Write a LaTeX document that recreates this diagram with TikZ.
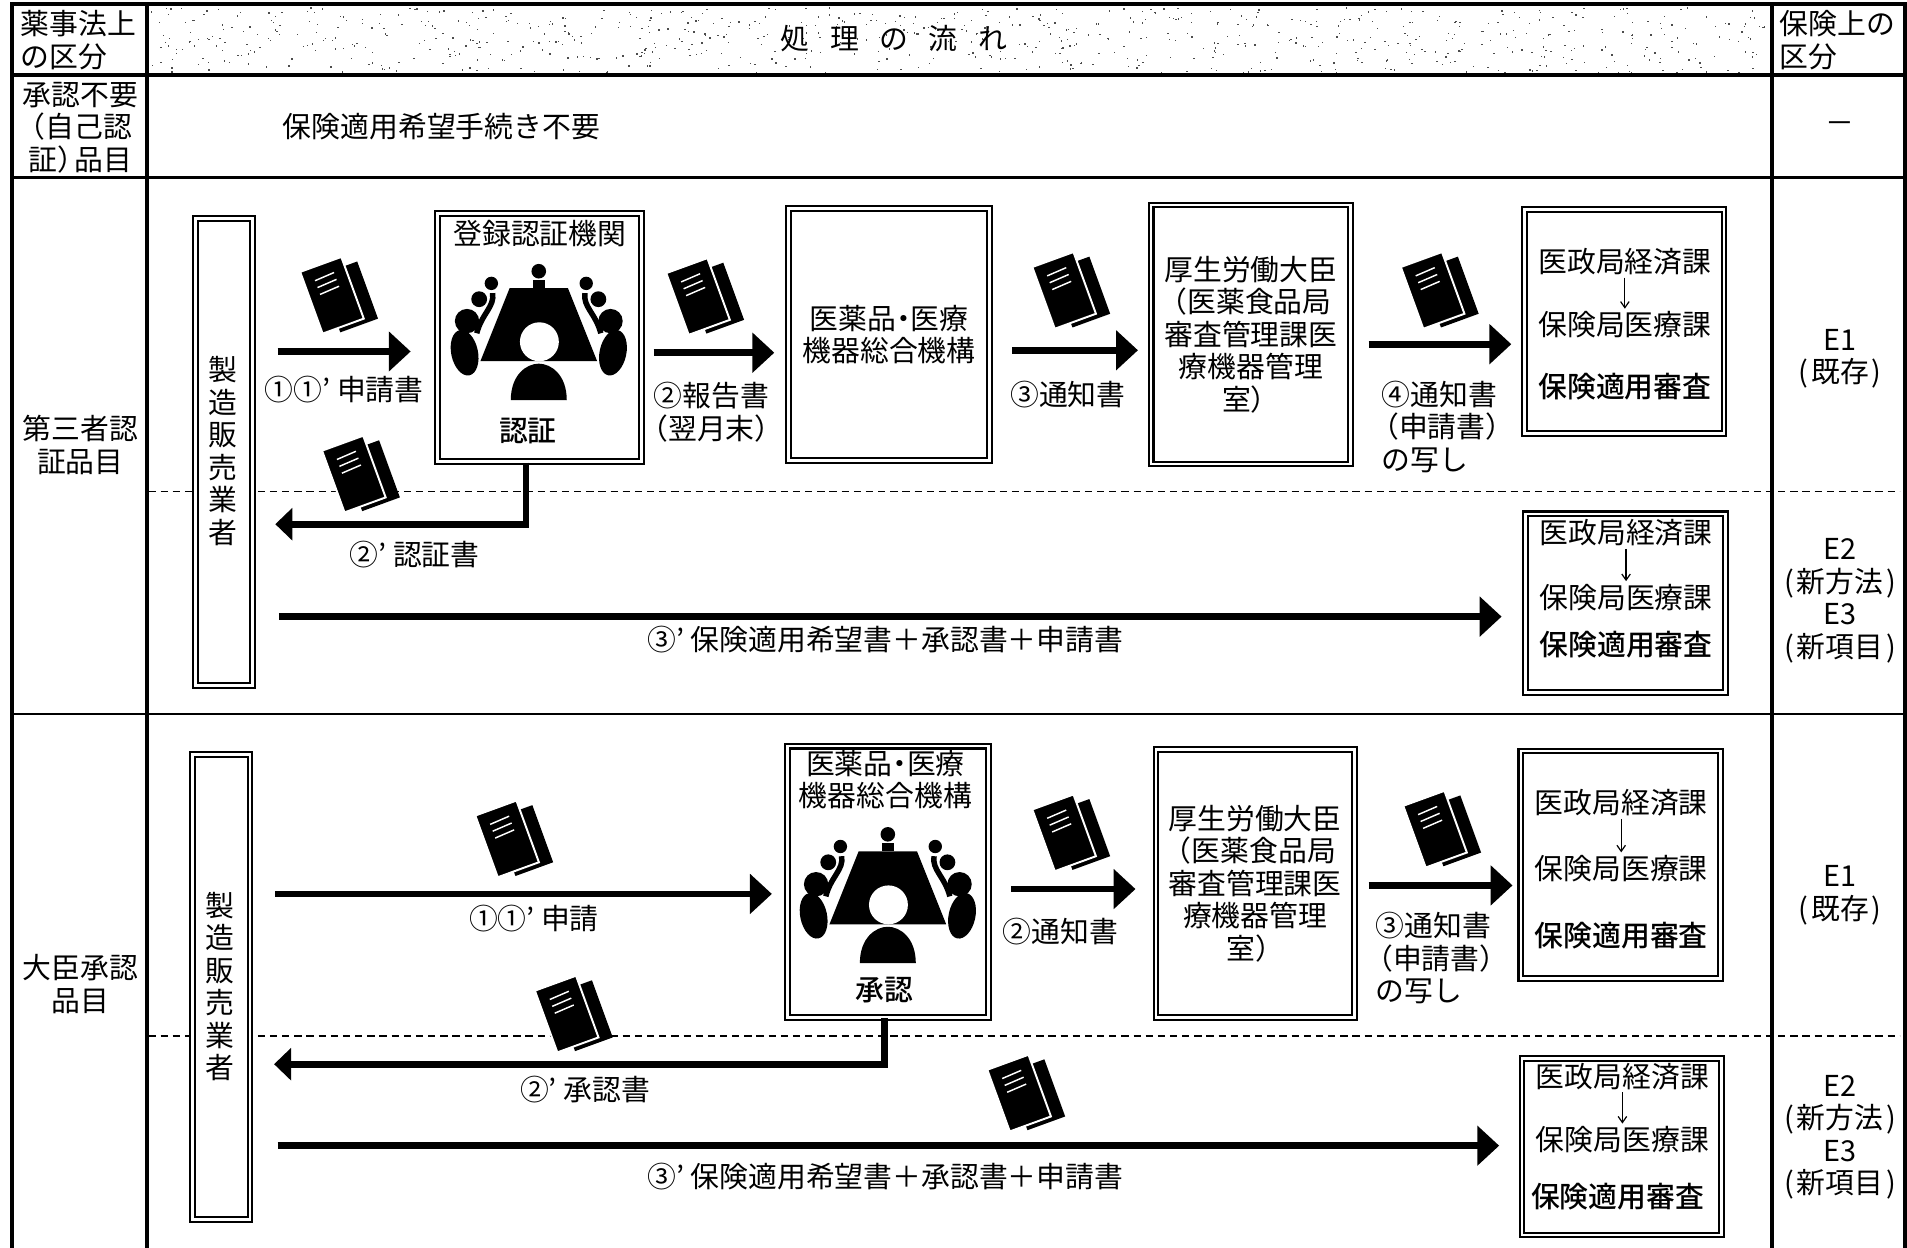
\documentclass[tikz,border=0pt]{standalone}
\usepackage{fontspec}
\setmainfont{Noto Sans CJK JP}[BoldFont=* Medium]
\usetikzlibrary{arrows.meta,positioning,calc}
\newcommand{\lp}{\hspace*{-0.4em}（}
\newcommand{\nakaten}{\hspace{-0.25em}・\hspace{-0.25em}}
\newcommand{\klass}[1]{(\kern.1em#1\kern.1em)}
\tikzset{
    txt/.style={inner sep=0pt,align=center,font=\fontsize{23.7}{26.7}\selectfont},
    txtb/.style={inner sep=0pt,align=center,font=\fontsize{23.7}{26.7}\selectfont\bfseries},
    txtl/.style={inner sep=0pt,align=left,font=\fontsize{23.7}{26.7}\selectfont},
    dblbox/.style={draw,fill=white,double,line width=1.7pt,double distance=2.2pt,inner sep=0pt,align=center,font=\fontsize{23.7}{26.7}\selectfont},
    flow/.style={line width=5.5pt,-{Triangle[length=18pt,width=32pt]}},
    flowelbow/.style={line width=5.5pt,-{Triangle[length=14pt,width=26pt]}},
    thinflow/.style={line width=1pt,shorten <=2pt,shorten >=2pt,-{Straight Barb[length=5pt,width=7pt]}},
    tabheavy/.style={line width=3.4pt},
    tabthin/.style={line width=2pt},
    docicon/.pic={
        \fill[rotate=20] (-9,-20) rectangle (24,30);
        \fill[rotate=20,draw=white,line width=1.6pt] (-23,-28) rectangle (13,26);
        \foreach \yy in {-17,-11,-5}
            \draw[rotate=20,white,line width=1.2pt] (-14,\yy) -- (3,\yy-1);
    },
    meeting/.pic={
        % table and the chairman
        \fill (-24,-31) -- (24,-31) -- (48,29) -- (-48,29) -- cycle;
        \fill (0,-45) circle (6);
        \fill (-5,-38) rectangle (5,-31);
        \fill[white] (0.5,13) circle (16);
        % person in front
        \fill (-23,61) .. controls (-23,40) and (-10,31) .. (0,31) .. controls (10,31) and (23,40) .. (23,61) -- cycle;
        % both sides of the table
        \foreach \sx in {-1,1} {
            \begin{scope}[xscale=\sx]
            \fill (-59,-4) circle (10);
            \fill[rotate around={12:(-61,22)}] (-61,22) ellipse (11 and 19);
            \fill (-49,-22) circle (6.5);
            \fill (-39,-35) circle (5.5);
            \draw[line width=4.5pt] (-38,-27) .. controls (-36,-16) and (-47,-10) .. (-51,6);
            \end{scope}
        }
    },
}
\begin{document}
\begin{tikzpicture}[x=1pt,y=-1pt]
    \useasboundingbox (0,0) rectangle (1568,1026);
    \fill[white] (0,0) rectangle (1568,1026);

    % stipple of the title row
    \pgfmathsetseed{11}
    \foreach \i in {1,...,800} {
        \pgfmathsetmacro\px{124+1330*rnd}
        \pgfmathsetmacro\py{6+54*rnd}
        \fill[black!70] (\px,\py) rectangle +(1.1,1.1);
    }

    % table frame
    \draw[tabheavy] (10,1026) -- (10,3) -- (1566,3) -- (1566,1026);
    \draw[tabheavy] (121,3) -- (121,1026);
    \draw[tabheavy] (1457,3) -- (1457,1026);
    \draw[tabheavy] (10,62) -- (1566,62);
    \draw[tabthin] (10,146) -- (1566,146);
    \draw[tabthin] (10,587) -- (1566,587);
    \draw[dash pattern=on 6pt off 4pt,line width=1.2pt] (122,404) -- (1562,404);
    \draw[dash pattern=on 6pt off 4pt,line width=1.2pt] (122,852) -- (1562,852);

    % left column
    \node[txtl,anchor=west] (headL) at (17,33) {薬事法上\\の区分};
    \node[txt] (rowNone) at (66,105) {承認不要\\\lp 自己認\\証）\hspace{-0.4em}品目};
    \node[txt] (rowThird) at (66,366) {第三者認\\証品目};
    \node[txt] (rowMin) at (66,809) {大臣承認\\品目};

    % title and right column
    \node[txt] (headC) at (735,32) {処\hspace{0.71em}理\hspace{0.71em}の\hspace{0.71em}流\hspace{0.71em}れ};
    \node[txtl,anchor=west] (headR) at (1463,33) {保険上の\\区分};
    \node[txt] (noProc) at (363,104) {保険適用希望手続き不要};
    \node[txt] (dash) at (1513,105) {－};
    \node[txt] (classA) at (1513,295) {E1\\\klass{既存}};
    \node[txt] (classB) at (1513,494) {E2\\\klass{新方法}\\E3\\\klass{新項目}};
    \node[txt] (classC) at (1513,736) {E1\\\klass{既存}};
    \node[txt] (classD) at (1513,935) {E2\\\klass{新方法}\\E3\\\klass{新項目}};

    % upper flow: boxes
    \node[dblbox,minimum width=47,minimum height=384] (makerA) at (184,371.5) {};
    \node[txt] (makerAt) at (183,371) {製\\造\\販\\売\\業\\者};
    \node[dblbox,minimum width=168,minimum height=204] (cert) at (443.5,277.5) {};
    \node[txt] (certT) at (444,192) {登録認証機関};
    \node[txtb] (certB) at (434,354) {認証};
    \node[dblbox,minimum width=165,minimum height=207] (pmdaA) at (731,275) {医薬品\nakaten 医療\\機器総合機構};
    \node[dblbox,minimum width=164,minimum height=213] (mhlwA) at (1028.5,275) {厚生労働大臣\\\lp 医薬食品局\\審査管理課医\\療機器管理\\室）};
    \node[dblbox,minimum width=164,minimum height=184] (insA) at (1335.5,264.5) {};
    \node[txt] (insAa) at (1336,215) {医政局経済課};
    \node[txt] (insAb) at (1336,267) {保険局医療課};
    \node[txtb] (insAc) at (1336,318) {保険適用審査};
    \node[dblbox,minimum width=164,minimum height=147] (insB) at (1336.5,496) {};
    \node[txt] (insBa) at (1337,438) {医政局経済課};
    \node[txt] (insBb) at (1337,491) {保険局医療課};
    \node[txtb] (insBc) at (1337,530) {保険適用審査};

    % lower flow: boxes
    \node[dblbox,minimum width=47,minimum height=382] (makerB) at (182,811.5) {};
    \node[txt] (makerBt) at (181,811) {製\\造\\販\\売\\業\\者};
    \node[dblbox,minimum width=165,minimum height=223] (pmdaB) at (730,725) {};
    \node[txt] (pmdaBt) at (728,641) {医薬品\nakaten 医療\\機器総合機構};
    \node[txtb] (pmdaBb) at (727,814) {承認};
    \node[dblbox,minimum width=163,minimum height=220] (mhlwB) at (1032,726.5) {厚生労働大臣\\\lp 医薬食品局\\審査管理課医\\療機器管理\\室）};
    \node[dblbox,minimum width=164,minimum height=187] (insC) at (1332.5,711) {};
    \node[txt] (insCa) at (1333,660) {医政局経済課};
    \node[txt] (insCb) at (1333,714) {保険局医療課};
    \node[txtb] (insCc) at (1333,769) {保険適用審査};
    \node[dblbox,minimum width=164,minimum height=145] (insD) at (1333.5,943) {};
    \node[txt] (insDa) at (1334,885) {医政局経済課};
    \node[txt] (insDb) at (1334,937) {保険局医療課};
    \node[txtb] (insDc) at (1330,984) {保険適用審査};

    % down arrows inside the last boxes
    \draw[thinflow] (insAa) -- (insAb);
    \draw[thinflow] (insBa) -- (insBb);
    \draw[thinflow] (insCa) -- (insCb);
    \draw[thinflow] (insDa) -- (insDb);

    % icons
    \pic at (443,268) {meeting};
    \pic at (730,731) {meeting};
    \foreach \dx/\dy in {278/242,579/243,880/238,1183/238,296/389,422/689,880/684,1185/681,471/833,843/898}
        \pic at (\dx,\dy) {docicon};

    % levels of the arrows
    \coordinate (lvA) at (0,289);
    \coordinate (lvB) at (0,290);
    \coordinate (lvC) at (0,288);
    \coordinate (lvD) at (0,283);
    \coordinate (lvE) at (0,431);
    \coordinate (lvF) at (0,507);
    \coordinate (lvG) at (0,735);
    \coordinate (lvH) at (0,731);
    \coordinate (lvI) at (0,728);
    \coordinate (lvJ) at (0,875);
    \coordinate (lvK) at (0,942);

    % upper flow: arrows
    \draw[flow,shorten <=20pt,shorten >=21pt] (makerA.east |- lvA) -- (cert.west |- lvA);
    \draw[flow,shorten <=9pt,shorten >=11pt] (cert.east |- lvB) -- (pmdaA.west |- lvB);
    \draw[flow,shorten <=18pt,shorten >=10pt] (pmdaA.east |- lvC) -- (mhlwA.west |- lvC);
    \draw[flow,shorten <=14pt,shorten >=10pt] (mhlwA.east |- lvD) -- (insA.west |- lvD);
    \draw[flowelbow] ([xshift=-11pt]cert.south) |- ([xshift=18pt]makerA.east |- lvE);
    \draw[flow,shorten <=21pt,shorten >=19pt] (makerA.east |- lvF) -- (insB.west |- lvF);

    % lower flow: arrows
    \draw[flow,shorten <=20pt,shorten >=12pt] (makerB.east |- lvG) -- (pmdaB.west |- lvG);
    \draw[flow,shorten <=18pt,shorten >=16pt] (pmdaB.east |- lvH) -- (mhlwB.west |- lvH);
    \draw[flow,shorten <=11pt,shorten >=6pt] (mhlwB.east |- lvI) -- (insC.west |- lvI);
    \draw[flowelbow] ([xshift=-3pt]pmdaB.south) |- ([xshift=19pt]makerB.east |- lvJ);
    \draw[flow,shorten <=22pt,shorten >=18pt] (makerB.east |- lvK) -- (insD.west |- lvK);

    % arrow labels
    \node[txt] (lbA) at (283,320) {①①' 申請書};
    \node[txt] (lbB) at (585,339) {②報告書\\（翌月末）};
    \node[txt] (lbC) at (878,324) {③通知書};
    \node[txtl,anchor=west] (lbD) at (1136,351) {④通知書\\\lp 申請書）\\の写し};
    \node[txt] (lbE) at (341,456) {②' 認証書};
    \node[txt] (lbF) at (728,526) {③' 保険適用希望書＋承認書＋申請書};
    \node[txt] (lbG) at (439,755) {①①' 申請};
    \node[txt] (lbH) at (872,766) {②通知書};
    \node[txtl,anchor=west] (lbI) at (1131,788) {③通知書\\\lp 申請書）\\の写し};
    \node[txt] (lbJ) at (481,896) {②' 承認書};
    \node[txt] (lbK) at (728,967) {③' 保険適用希望書＋承認書＋申請書};
\end{tikzpicture}
\end{document}
